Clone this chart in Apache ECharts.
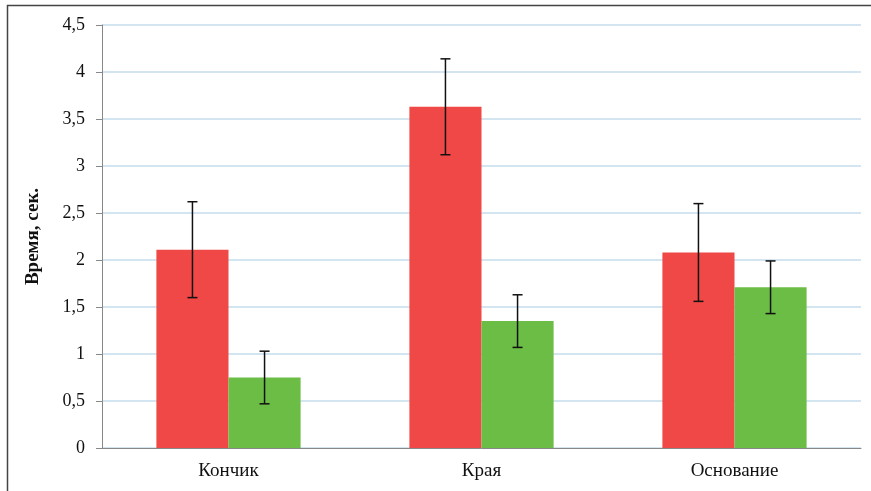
<!DOCTYPE html>
<html>
<head>
<meta charset="utf-8">
<script src="https://cdn.jsdelivr.net/npm/echarts@6/dist/echarts.min.js"></script>
<style>
  html, body { margin: 0; padding: 0; background: #fff; }
  #main { width: 871px; height: 491px; }
</style>
</head>
<body>
<div id="main"></div>
<script>
var categories = ['Кончик', 'Края', 'Основание'];
var redValues = [2.11, 3.63, 2.08];
var redErrors = [0.51, 0.51, 0.52];
var greenValues = [0.75, 1.35, 1.71];
var greenErrors = [0.28, 0.28, 0.28];
var yTicks = ['0', '0,5', '1', '1,5', '2', '2,5', '3', '3,5', '4', '4,5'];

var catGap = 0.43;
var font = 'Liberation Serif';

function errData(vals, errs) {
  return vals.map(function (v, i) {
    return [i, v - errs[i], v + errs[i]];
  });
}

// error bars sit on the centre of the red (-1) or green (+1) bar
function errRender(side) {
  return function (params, api) {
    var catW = api.size([1, 0])[0];
    var barW = catW * (1 - catGap) / 2;
    var lo = api.coord([api.value(0), api.value(1)]);
    var hi = api.coord([api.value(0), api.value(2)]);
    var x = lo[0] + side * barW / 2;
    var cap = 5;
    var style = { stroke: '#111', lineWidth: 1.5 };
    return {
      type: 'group',
      children: [
        { type: 'line', shape: { x1: x, y1: hi[1], x2: x, y2: lo[1] }, style: style },
        { type: 'line', shape: { x1: x - cap, y1: hi[1], x2: x + cap, y2: hi[1] }, style: style },
        { type: 'line', shape: { x1: x - cap, y1: lo[1], x2: x + cap, y2: lo[1] }, style: style }
      ]
    };
  };
}

var myChart = echarts.init(document.getElementById('main'));
myChart.setOption({
  animation: false,
  textStyle: { fontFamily: font },
  graphic: [{
    type: 'rect',
    shape: { x: 7.5, y: 5.5, width: 880, height: 500 },
    style: { fill: 'none', stroke: '#444', lineWidth: 1.5 },
    z: 10
  }],
  grid: { left: 102, right: 10, top: 25, bottom: 43 },
  xAxis: {
    type: 'category',
    data: categories,
    axisLine: { lineStyle: { color: '#888', width: 1 } },
    axisTick: { length: 6, lineStyle: { color: '#888' } },
    axisLabel: { color: '#111', fontSize: 19, fontFamily: font, margin: 14 }
  },
  yAxis: {
    type: 'value',
    min: 0,
    max: 4.5,
    interval: 0.5,
    name: 'Время, сек.',
    nameLocation: 'middle',
    nameGap: 59,
    nameTextStyle: { color: '#111', fontSize: 19, fontWeight: 'bold', fontFamily: font },
    axisLine: { show: true, lineStyle: { color: '#888', width: 1 } },
    axisTick: { show: true, length: 6, lineStyle: { color: '#888' } },
    axisLabel: {
      color: '#111', fontSize: 18, fontFamily: font, margin: 17,
      formatter: function (v) { return yTicks[Math.round(v * 2)]; }
    },
    splitLine: { lineStyle: { color: '#c6dcee', width: 1.5 } }
  },
  series: [
    {
      type: 'bar',
      data: redValues,
      barGap: '0%',
      barCategoryGap: (catGap * 100) + '%',
      itemStyle: { color: '#ef4846' }
    },
    {
      type: 'bar',
      data: greenValues,
      itemStyle: { color: '#6bbd45' }
    },
    {
      type: 'custom',
      data: errData(redValues, redErrors),
      encode: { x: 0, y: [1, 2] },
      renderItem: errRender(-1),
      z: 5
    },
    {
      type: 'custom',
      data: errData(greenValues, greenErrors),
      encode: { x: 0, y: [1, 2] },
      renderItem: errRender(1),
      z: 5
    }
  ]
});
</script>
</body>
</html>
